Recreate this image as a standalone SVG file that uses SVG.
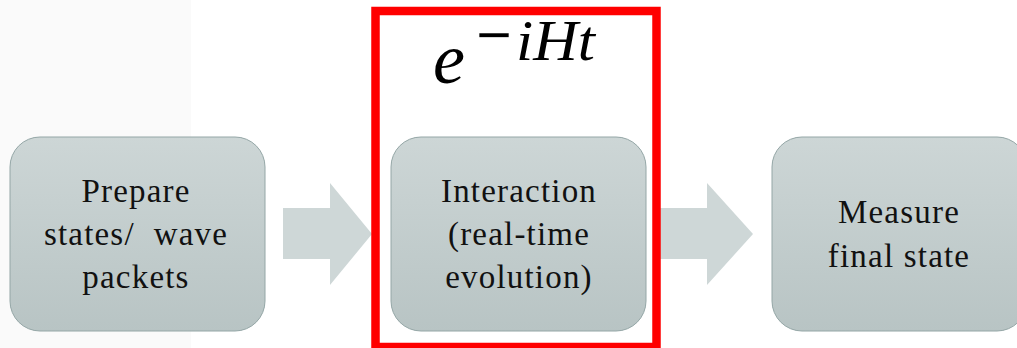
<svg xmlns="http://www.w3.org/2000/svg" width="1017" height="348" viewBox="0 0 1017 348">
<defs>
<linearGradient id="g" x1="0" y1="0" x2="0" y2="1">
<stop offset="0" stop-color="#cdd6d6"/>
<stop offset="1" stop-color="#b8c4c4"/>
</linearGradient>
<style>
.box{fill:url(#g);stroke:#94a6a6;stroke-width:1}
.t{font-family:"Liberation Serif",serif;font-size:33px;fill:#111;text-anchor:middle;letter-spacing:1.2px}
.arr{fill:#ced7d7}
.m{font-family:"Liberation Serif",serif;font-style:italic;fill:#000}
</style>
</defs>
<rect x="0" y="0" width="191" height="348" fill="#fafafa"/>
<g id="connectors">
<polygon class="arr" points="283,208 330,208 330,183 372,234 330,285 330,259 283,259"/>
<polygon class="arr" points="660,208 707,208 707,183 753,234 707,285 707,259 660,259"/>
</g>
<g id="node-prepare">
<rect class="box" x="10" y="137" width="255" height="194" rx="30"/>
<text class="t" x="136" y="202">Prepare</text>
<text class="t" x="136" y="245">states/&#160; wave</text>
<text class="t" x="136" y="288">packets</text>
</g>
<g id="node-interaction">
<rect class="box" x="391" y="137" width="255" height="194" rx="30"/>
<text class="t" x="519" y="202">Interaction</text>
<text class="t" x="519" y="245">(real-time</text>
<text class="t" x="519" y="288">evolution)</text>
</g>
<g id="node-measure">
<rect class="box" x="772" y="137" width="255" height="194" rx="30"/>
<text class="t" x="899" y="223">Measure</text>
<text class="t" x="899" y="267">final state</text>
</g>
<g id="evolution-box">
<rect x="375.5" y="11" width="281" height="336" fill="none" stroke="#ff0000" stroke-width="8.5"/>
<text class="m" x="433" y="83" font-size="72">e</text>
<text x="476" y="54" font-family="Liberation Serif, serif" font-weight="bold" font-size="56" textLength="36" lengthAdjust="spacingAndGlyphs">−</text>
<text class="m" x="516" y="60" font-size="56" textLength="79" lengthAdjust="spacingAndGlyphs">iHt</text>
</g>
</svg>
